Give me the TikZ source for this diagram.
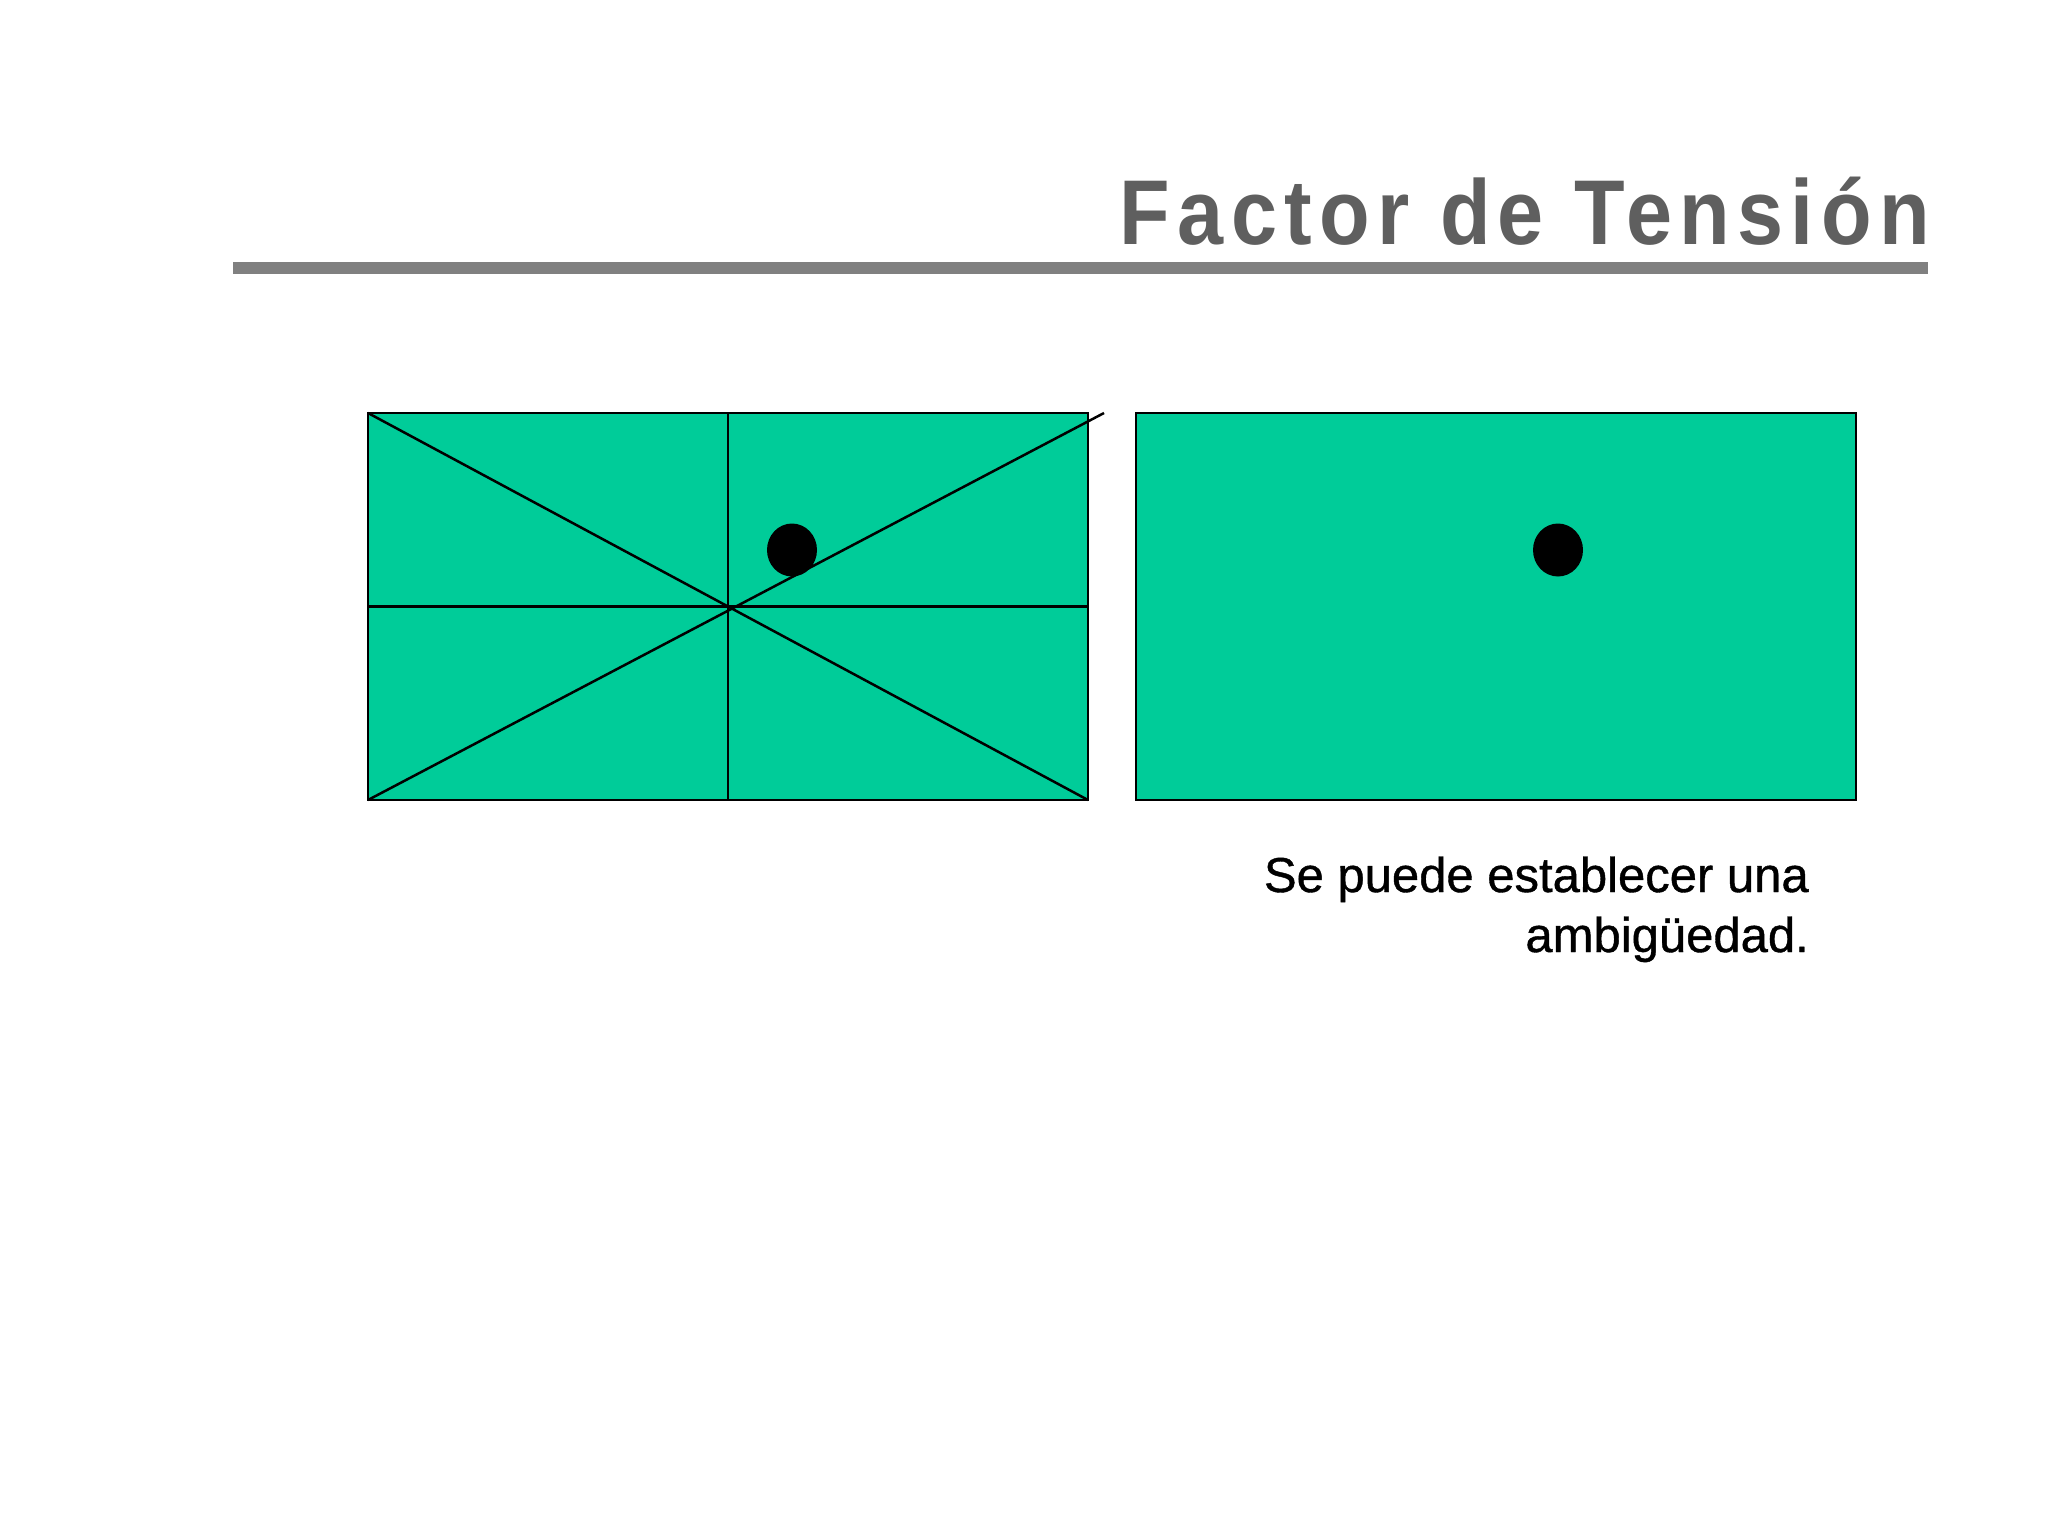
\documentclass[tikz,border=0pt]{standalone}
\usepackage{fontspec}
\usetikzlibrary{shapes.geometric}
\setmainfont{Liberation Sans}
\newfontfamily\titlefont{Liberation Sans}[FakeStretch=0.9,LetterSpace=8.0]
\newfontfamily\captionfont{Liberation Sans}[FakeBold=0.8]
\definecolor{panelgreen}{HTML}{00CC99}
\definecolor{titlegray}{HTML}{5F5F5F}
\definecolor{rulegray}{HTML}{808080}
\begin{document}
\begin{tikzpicture}[x=1pt,y=-1pt,
  panel/.style={draw=black,line width=2.5pt,fill=panelgreen,minimum width=720pt,minimum height=387pt,inner sep=0pt,outer sep=0pt},
  dot/.style={fill=black,ellipse,minimum width=50pt,minimum height=53pt,inner sep=0pt},
  guide/.style={draw=black,line width=2.5pt},
  body/.style={anchor=base east,inner sep=0pt,font=\captionfont\fontsize{49}{60}\selectfont}]
\useasboundingbox (0,0) rectangle (2048,1536);
\fill[white] (0,0) rectangle (2048,1536);
% title
\node[anchor=base east,inner sep=0pt,text=titlegray,font=\titlefont\bfseries\fontsize{92}{110}\selectfont] (title) at (1930,244) {Factor de Tensión};
\fill[rulegray] (233,262) rectangle (1928,274);
% panels
\node[panel] (L) at (728,606.5) {};
\node[panel] (R) at (1496,606.5) {};
\coordinate (ext) at (1104,413);
\draw[guide] (L.north) -- (L.south);
\draw[guide] (L.west) -- (L.east);
\draw[guide] (L.north west) -- (L.south east);
\draw[guide] (L.south west) -- (ext);
\node[dot] (d1) at (792,550) {};
\node[dot] (d2) at (1558,550) {};
% caption
\node[body] (c1) at (1809,892) {Se puede establecer una};
\node[body] (c2) at (1809,952) {ambigüedad.};
\end{tikzpicture}
\end{document}
